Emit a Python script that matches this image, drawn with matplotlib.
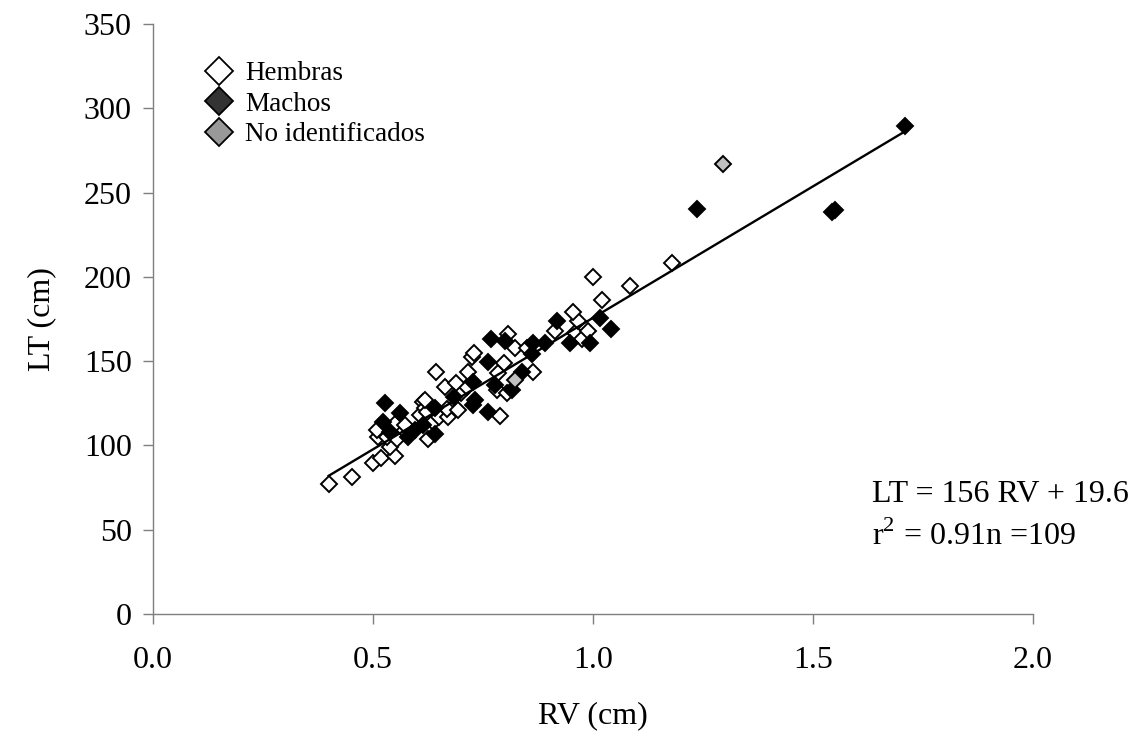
import numpy as np
import matplotlib
matplotlib.use("Agg")
import matplotlib.pyplot as plt
from matplotlib.lines import Line2D

# --- data (RV cm, LT cm) ---
hembras_rv = [0.40, 0.453, 0.50, 0.52, 0.551, 0.54, 0.513, 0.533, 0.555, 0.626,
              0.51, 0.551, 0.574, 0.637, 0.607, 0.615, 0.62, 0.623, 0.619, 0.65,
              0.672, 0.668, 0.694, 0.79, 0.70, 0.782, 0.805, 0.665, 0.714, 0.69,
              0.644, 0.717, 0.785, 0.865, 0.799, 0.725, 0.73, 0.808, 0.824, 0.85,
              0.915, 0.96, 0.976, 0.99, 0.967, 0.955, 1.00, 1.022, 1.085, 1.18]
hembras_lt = [77, 81, 89.5, 92.5, 94, 99, 105, 105, 104, 104,
              109, 113, 112, 114, 118, 126, 122, 120, 127, 117,
              117, 121.6, 121, 117.5, 131, 133, 131, 134.7, 134.7, 137,
              143.6, 143.6, 143, 143.6, 149, 152.5, 155, 166, 158, 158,
              168, 167, 163, 168, 174, 179, 200, 186, 194.6, 208]

machos_rv = [0.528, 0.562, 0.524, 0.596, 0.54, 0.58, 0.642, 0.614, 0.642, 0.685,
             0.733, 0.729, 0.762, 0.729, 0.778, 0.817, 0.762, 0.769, 0.80, 0.84,
             0.862, 0.865, 0.892, 0.919, 0.949, 0.994, 1.017, 1.042, 1.237, 1.544,
             1.55, 1.71]
machos_lt = [125, 119, 114, 109, 108, 105, 107, 112, 122, 129,
             127, 124, 120, 137.6, 136, 133, 149.5, 163, 162, 143.6,
             154, 161, 161, 174, 161, 161, 175.6, 169, 240, 238.5,
             239.5, 289.5]

noid_rv = [0.824, 1.296]
noid_lt = [139, 267]

slope = 156
intercept = 19.6

plt.rcParams['font.family'] = ['Liberation Serif', 'DejaVu Serif']
plt.rcParams['mathtext.fontset'] = 'custom'
plt.rcParams['mathtext.rm'] = 'Liberation Serif'

W, H = 1135, 746
fig = plt.figure(figsize=(W / 100, H / 100), dpi=100)
ax = fig.add_axes([0.1345, 0.1769, 0.7754, 0.7909])

mk = dict(marker='D', linestyle='none', markersize=8.5, markeredgewidth=1.4,
          markeredgecolor='black')
ax.plot(hembras_rv, hembras_lt, markerfacecolor='white', **mk)
ax.plot(machos_rv, machos_lt, markerfacecolor='black', **mk)
ax.plot(noid_rv, noid_lt, markerfacecolor='#c0c0c0', **mk)

all_rv = np.array(hembras_rv + machos_rv + noid_rv)
xs = np.array([all_rv.min(), all_rv.max()])
ax.plot(xs, slope * xs + intercept, color='black', linewidth=1.7)

ax.set_xlim(0, 2.0)
ax.set_ylim(0, 350)
ax.set_xticks([0.0, 0.5, 1.0, 1.5, 2.0])
ax.set_xticklabels(['0.0', '0.5', '1.0', '1.5', '2.0'])
ax.set_yticks(range(0, 351, 50))

for s in ['top', 'right']:
    ax.spines[s].set_visible(False)
for s in ['left', 'bottom']:
    ax.spines[s].set_color('#7f7f7f')
    ax.spines[s].set_linewidth(1.0)
ax.tick_params(axis='both', direction='out', length=7, width=1.0,
               color='#7f7f7f', labelsize=23)
ax.tick_params(axis='x', pad=16)
ax.tick_params(axis='y', pad=8)

ax.set_xlabel('RV (cm)', fontsize=23, labelpad=19)
ax.set_ylabel('LT (cm)', fontsize=23, labelpad=20)

legend_faces = ['white', '#333333', '#999999']
handles = [Line2D([], [], marker='D', linestyle='none', markersize=14,
                  markeredgewidth=1.3, markeredgecolor='black', markerfacecolor=c)
           for c in legend_faces]
ax.legend(handles, ['Hembras', 'Machos', 'No identificados'], loc='upper left',
          bbox_to_anchor=(0.045, 0.955), frameon=False, fontsize=19.5,
          handletextpad=0.35, labelspacing=0.2, handlelength=1.2, borderaxespad=0.0)

fig.text(872 / W, 1 - 494 / H, 'LT = 156 RV + 19.6', fontsize=23,
         va='center', ha='left')
fig.text(872 / W, 1 - 536 / H, r'r$^{\mathregular{2}}$ = 0.91n =109',
         fontsize=23, va='center', ha='left')

fig.savefig('out.png', dpi=100)
